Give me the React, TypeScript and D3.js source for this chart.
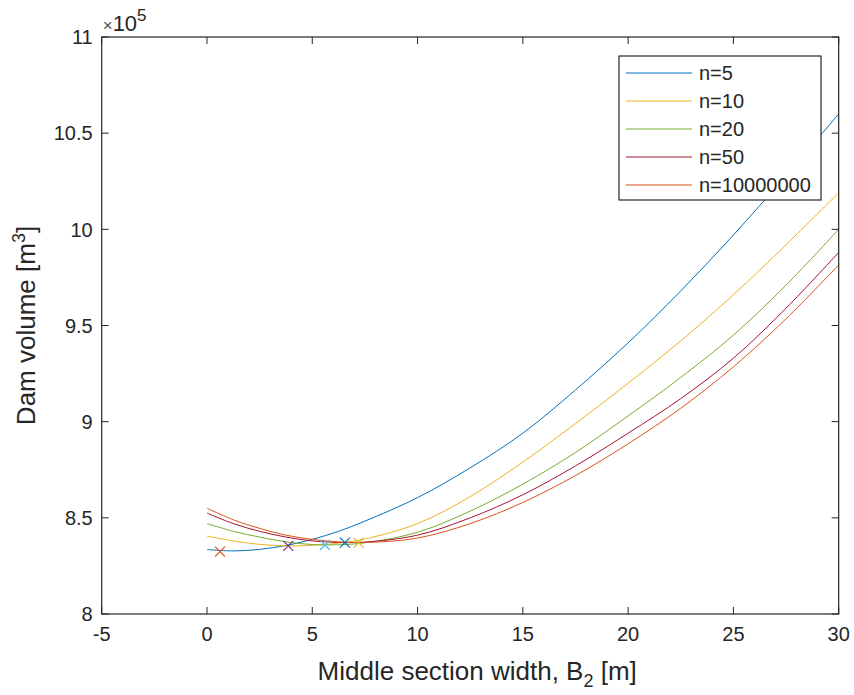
import React, { useEffect, useRef } from "react";
import * as d3 from "d3";

// Middle section width B2 [m]
const widths = [0, 1.25, 2.5, 3.75, 5, 6.25, 7.5, 10, 12.5, 15, 17.5, 20, 22.5, 25, 27.5, 30];

// Dam volume in units of 1e5 m^3
const volN5 = [8.335, 8.328, 8.336, 8.356, 8.388, 8.43, 8.483, 8.605, 8.76, 8.94, 9.165, 9.41, 9.68, 9.97, 10.28, 10.6];
const volN10 = [8.405, 8.38, 8.362, 8.354, 8.357, 8.368, 8.39, 8.47, 8.61, 8.79, 8.99, 9.2, 9.42, 9.66, 9.92, 10.19];
const volN20 = [8.47, 8.43, 8.4, 8.375, 8.361, 8.36, 8.37, 8.425, 8.535, 8.675, 8.84, 9.03, 9.23, 9.45, 9.71, 10.0];
const volN50 = [8.525, 8.47, 8.43, 8.4, 8.38, 8.372, 8.374, 8.41, 8.5, 8.62, 8.77, 8.94, 9.12, 9.33, 9.59, 9.88];
const volNInf = [8.55, 8.49, 8.445, 8.41, 8.388, 8.375, 8.372, 8.395, 8.47, 8.58, 8.72, 8.885, 9.07, 9.285, 9.535, 9.815];

const seriesNames = ["n=5", "n=10", "n=20", "n=50", "n=10000000"];
const seriesValues = [volN5, volN10, volN20, volN50, volNInf];

// minimum of each curve (marked with x)
const minWidths = [0.62, 3.86, 5.6, 6.55, 7.2];
const minVolumes = [8.324, 8.354, 8.359, 8.371, 8.371];

const xTicks = [-5, 0, 5, 10, 15, 20, 25, 30];
const yTicks = [8, 8.5, 9, 9.5, 10, 10.5, 11];

// MATLAB default colour order
const lineColors = ["#0072BD", "#EDB120", "#77AC30", "#A2142F", "#D95319"];
const markerColors = ["#D95319", "#7E2F8E", "#4DBEEE", "#0072BD", "#EDB120"];

const W = 854;
const H = 695;
const FONT = "'Liberation Sans', Arial, sans-serif";
const AXIS = "#262626";

const App = () => {
  const ref = useRef<SVGSVGElement>(null);

  useEffect(() => {
    document.body.style.margin = "0";
    const svg = d3.select(ref.current);
    svg.selectAll("*").remove();

    const left = 101.7, right = 838.7, top = 37, bottom = 614;

    const x = d3.scaleLinear().domain([-5, 30]).range([left, right]);
    const y = d3.scaleLinear().domain([8, 11]).range([bottom, top]);

    svg.append("rect").attr("width", W).attr("height", H).attr("fill", "#fff");

    // curves
    const line = d3
      .line<number>()
      .x((d, i) => x(widths[i]))
      .y((d) => y(d))
      .curve(d3.curveCatmullRom.alpha(0.5));

    seriesValues.forEach((vals, i) => {
      svg
        .append("path")
        .datum(vals)
        .attr("fill", "none")
        .attr("stroke", lineColors[i])
        .attr("stroke-width", 1)
        .attr("d", line);
    });

    // x markers at minimum
    const s = 5;
    minWidths.forEach((b, i) => {
      const cx = x(b), cy = y(minVolumes[i]);
      svg
        .append("path")
        .attr("d", `M${cx - s},${cy - s}L${cx + s},${cy + s}M${cx - s},${cy + s}L${cx + s},${cy - s}`)
        .attr("stroke", markerColors[i])
        .attr("stroke-width", 1.2)
        .attr("fill", "none");
    });

    // axes box
    svg
      .append("rect")
      .attr("x", left)
      .attr("y", top)
      .attr("width", right - left)
      .attr("height", bottom - top)
      .attr("fill", "none")
      .attr("stroke", AXIS)
      .attr("stroke-width", 1.2);

    const tl = 7;
    const g = svg.append("g").attr("stroke", AXIS).attr("stroke-width", 1);
    xTicks.forEach((t) => {
      g.append("line").attr("x1", x(t)).attr("x2", x(t)).attr("y1", bottom).attr("y2", bottom - tl);
      g.append("line").attr("x1", x(t)).attr("x2", x(t)).attr("y1", top).attr("y2", top + tl);
    });
    yTicks.forEach((t) => {
      g.append("line").attr("x1", left).attr("x2", left + tl).attr("y1", y(t)).attr("y2", y(t));
      g.append("line").attr("x1", right).attr("x2", right - tl).attr("y1", y(t)).attr("y2", y(t));
    });

    const txt = svg.append("g").attr("font-family", FONT).attr("fill", AXIS);

    xTicks.forEach((t) => {
      txt
        .append("text")
        .attr("x", x(t))
        .attr("y", 641)
        .attr("text-anchor", "middle")
        .attr("font-size", 20)
        .text(String(t));
    });
    yTicks.forEach((t) => {
      txt
        .append("text")
        .attr("x", left - 9)
        .attr("y", y(t))
        .attr("dy", "0.36em")
        .attr("text-anchor", "end")
        .attr("font-size", 20)
        .text(String(t));
    });

    // exponent
    const ex = txt.append("text").attr("x", left + 1).attr("y", 31).attr("font-size", 22);
    ex.append("tspan").attr("font-size", 17).attr("fill", "#555").text("\u00d7");
    ex.append("tspan").text("10");
    ex.append("tspan").attr("font-size", 17).attr("dy", -10).text("5");

    // x label
    const xl = txt
      .append("text")
      .attr("x", (left + right) / 2 + 7)
      .attr("y", 680)
      .attr("text-anchor", "middle")
      .attr("font-size", 26);
    xl.append("tspan").text("Middle section width, B");
    xl.append("tspan").attr("font-size", 18).attr("dy", 7).text("2");
    xl.append("tspan").attr("dy", -7).text(" [m]");

    // y label
    const yl = txt
      .append("text")
      .attr("transform", `translate(35,${(top + bottom) / 2}) rotate(-90)`)
      .attr("text-anchor", "middle")
      .attr("font-size", 26);
    yl.append("tspan").text("Dam volume [m");
    yl.append("tspan").attr("font-size", 18).attr("dy", -10).text("3");
    yl.append("tspan").attr("dy", 10).text("]");

    // legend
    const lx = 619, ly = 56, lw = 202, lh = 144;
    const leg = svg.append("g");
    leg
      .append("rect")
      .attr("x", lx)
      .attr("y", ly)
      .attr("width", lw)
      .attr("height", lh)
      .attr("fill", "#fff")
      .attr("stroke", AXIS)
      .attr("stroke-width", 1.2);
    seriesNames.forEach((name, i) => {
      const yy = 73 + i * 28;
      leg
        .append("line")
        .attr("x1", 626)
        .attr("x2", 692)
        .attr("y1", yy)
        .attr("y2", yy)
        .attr("stroke", lineColors[i])
        .attr("stroke-width", 1.2);
      leg
        .append("text")
        .attr("x", 699)
        .attr("y", yy)
        .attr("dy", "0.36em")
        .attr("font-family", FONT)
        .attr("font-size", 20)
        .attr("fill", AXIS)
        .text(name);
    });
  }, []);

  return <svg ref={ref} width={W} height={H} style={{ display: "block" }}></svg>;
};

export default App;
